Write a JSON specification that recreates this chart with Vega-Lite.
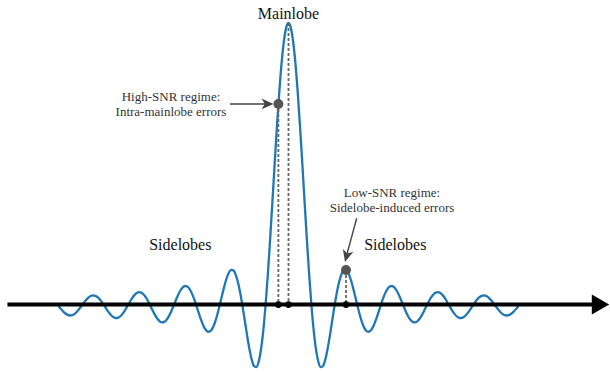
{
  "$schema": "https://vega.github.io/schema/vega-lite/v6.json",
  "width": 610,
  "height": 373,
  "autosize": {"type": "fit", "contains": "padding"},
  "padding": 0,
  "background": "white",
  "config": {"view": {"stroke": null}},
  "datasets": {
    "curve": [
      {"x": -10, "y": 0}, {"x": -9.9, "y": -0.00994}, {"x": -9.8, "y": -0.01909}, {"x": -9.7, "y": -0.02655}, {"x": -9.6, "y": -0.03153}, {"x": -9.5, "y": -0.03351}, {"x": -9.4, "y": -0.03221}, {"x": -9.3, "y": -0.02769}, {"x": -9.2, "y": -0.02034}, {"x": -9.1, "y": -0.01081},
      {"x": -9, "y": 0}, {"x": -8.9, "y": 0.01105}, {"x": -8.8, "y": 0.02126}, {"x": -8.7, "y": 0.0296}, {"x": -8.6, "y": 0.0352}, {"x": -8.5, "y": 0.03745}, {"x": -8.4, "y": 0.03604}, {"x": -8.3, "y": 0.03103}, {"x": -8.2, "y": 0.02282}, {"x": -8.1, "y": 0.01214},
      {"x": -8, "y": 0}, {"x": -7.9, "y": -0.01245}, {"x": -7.8, "y": -0.02399}, {"x": -7.7, "y": -0.03344}, {"x": -7.6, "y": -0.03983}, {"x": -7.5, "y": -0.04244}, {"x": -7.4, "y": -0.04091}, {"x": -7.3, "y": -0.03528}, {"x": -7.2, "y": -0.02599}, {"x": -7.1, "y": -0.01385},
      {"x": -7, "y": 0}, {"x": -6.9, "y": 0.01426}, {"x": -6.8, "y": 0.02751}, {"x": -6.7, "y": 0.03844}, {"x": -6.6, "y": 0.04587}, {"x": -6.5, "y": 0.04897}, {"x": -6.4, "y": 0.0473}, {"x": -6.3, "y": 0.04088}, {"x": -6.2, "y": 0.03018}, {"x": -6.1, "y": 0.01613},
      {"x": -6, "y": 0}, {"x": -5.9, "y": -0.01667}, {"x": -5.8, "y": -0.03226}, {"x": -5.7, "y": -0.04518}, {"x": -5.6, "y": -0.05406}, {"x": -5.5, "y": -0.05787}, {"x": -5.4, "y": -0.05606}, {"x": -5.3, "y": -0.04859}, {"x": -5.2, "y": -0.03598}, {"x": -5.1, "y": -0.01929},
      {"x": -5, "y": 0}, {"x": -4.9, "y": 0.02007}, {"x": -4.8, "y": 0.03898}, {"x": -4.7, "y": 0.05479}, {"x": -4.6, "y": 0.06581}, {"x": -4.5, "y": 0.07074}, {"x": -4.4, "y": 0.0688}, {"x": -4.3, "y": 0.05989}, {"x": -4.2, "y": 0.04455}, {"x": -4.1, "y": 0.02399},
      {"x": -4, "y": 0}, {"x": -3.9, "y": -0.02522}, {"x": -3.8, "y": -0.04924}, {"x": -3.7, "y": -0.0696}, {"x": -3.6, "y": -0.08409}, {"x": -3.5, "y": -0.09095}, {"x": -3.4, "y": -0.08904}, {"x": -3.3, "y": -0.07804}, {"x": -3.2, "y": -0.05847}, {"x": -3.1, "y": -0.03173},
      {"x": -3, "y": 0}, {"x": -2.9, "y": 0.03392}, {"x": -2.8, "y": 0.06682}, {"x": -2.7, "y": 0.09538}, {"x": -2.6, "y": 0.11643}, {"x": -2.5, "y": 0.12732}, {"x": -2.4, "y": 0.12614}, {"x": -2.3, "y": 0.11197}, {"x": -2.2, "y": 0.08504}, {"x": -2.1, "y": 0.04684},
      {"x": -2, "y": 0}, {"x": -1.9, "y": -0.05177}, {"x": -1.8, "y": -0.10394}, {"x": -1.7, "y": -0.15148}, {"x": -1.6, "y": -0.18921}, {"x": -1.5, "y": -0.21221}, {"x": -1.4, "y": -0.21624}, {"x": -1.3, "y": -0.19809}, {"x": -1.2, "y": -0.15592}, {"x": -1.1, "y": -0.08942},
      {"x": -1, "y": 0}, {"x": -0.9, "y": 0.10929}, {"x": -0.8, "y": 0.23387}, {"x": -0.7, "y": 0.36788}, {"x": -0.6, "y": 0.50455}, {"x": -0.5, "y": 0.63662}, {"x": -0.4, "y": 0.75683}, {"x": -0.3, "y": 0.85839}, {"x": -0.2, "y": 0.93549}, {"x": -0.1, "y": 0.98363},
      {"x": 0, "y": 1},
      {"x": 0.1, "y": 0.98363}, {"x": 0.2, "y": 0.93549}, {"x": 0.3, "y": 0.85839}, {"x": 0.4, "y": 0.75683}, {"x": 0.5, "y": 0.63662}, {"x": 0.6, "y": 0.50455}, {"x": 0.7, "y": 0.36788}, {"x": 0.8, "y": 0.23387}, {"x": 0.9, "y": 0.10929}, {"x": 1, "y": 0},
      {"x": 1.1, "y": -0.08942}, {"x": 1.2, "y": -0.15592}, {"x": 1.3, "y": -0.19809}, {"x": 1.4, "y": -0.21624}, {"x": 1.5, "y": -0.21221}, {"x": 1.6, "y": -0.18921}, {"x": 1.7, "y": -0.15148}, {"x": 1.8, "y": -0.10394}, {"x": 1.9, "y": -0.05177}, {"x": 2, "y": 0},
      {"x": 2.1, "y": 0.04684}, {"x": 2.2, "y": 0.08504}, {"x": 2.3, "y": 0.11197}, {"x": 2.4, "y": 0.12614}, {"x": 2.5, "y": 0.12732}, {"x": 2.6, "y": 0.11643}, {"x": 2.7, "y": 0.09538}, {"x": 2.8, "y": 0.06682}, {"x": 2.9, "y": 0.03392}, {"x": 3, "y": 0},
      {"x": 3.1, "y": -0.03173}, {"x": 3.2, "y": -0.05847}, {"x": 3.3, "y": -0.07804}, {"x": 3.4, "y": -0.08904}, {"x": 3.5, "y": -0.09095}, {"x": 3.6, "y": -0.08409}, {"x": 3.7, "y": -0.0696}, {"x": 3.8, "y": -0.04924}, {"x": 3.9, "y": -0.02522}, {"x": 4, "y": 0},
      {"x": 4.1, "y": 0.02399}, {"x": 4.2, "y": 0.04455}, {"x": 4.3, "y": 0.05989}, {"x": 4.4, "y": 0.0688}, {"x": 4.5, "y": 0.07074}, {"x": 4.6, "y": 0.06581}, {"x": 4.7, "y": 0.05479}, {"x": 4.8, "y": 0.03898}, {"x": 4.9, "y": 0.02007}, {"x": 5, "y": 0},
      {"x": 5.1, "y": -0.01929}, {"x": 5.2, "y": -0.03598}, {"x": 5.3, "y": -0.04859}, {"x": 5.4, "y": -0.05606}, {"x": 5.5, "y": -0.05787}, {"x": 5.6, "y": -0.05406}, {"x": 5.7, "y": -0.04518}, {"x": 5.8, "y": -0.03226}, {"x": 5.9, "y": -0.01667}, {"x": 6, "y": 0},
      {"x": 6.1, "y": 0.01613}, {"x": 6.2, "y": 0.03018}, {"x": 6.3, "y": 0.04088}, {"x": 6.4, "y": 0.0473}, {"x": 6.5, "y": 0.04897}, {"x": 6.6, "y": 0.04587}, {"x": 6.7, "y": 0.03844}, {"x": 6.8, "y": 0.02751}, {"x": 6.9, "y": 0.01426}, {"x": 7, "y": 0},
      {"x": 7.1, "y": -0.01385}, {"x": 7.2, "y": -0.02599}, {"x": 7.3, "y": -0.03528}, {"x": 7.4, "y": -0.04091}, {"x": 7.5, "y": -0.04244}, {"x": 7.6, "y": -0.03983}, {"x": 7.7, "y": -0.03344}, {"x": 7.8, "y": -0.02399}, {"x": 7.9, "y": -0.01245}, {"x": 8, "y": 0},
      {"x": 8.1, "y": 0.01214}, {"x": 8.2, "y": 0.02282}, {"x": 8.3, "y": 0.03103}, {"x": 8.4, "y": 0.03604}, {"x": 8.5, "y": 0.03745}, {"x": 8.6, "y": 0.0352}, {"x": 8.7, "y": 0.0296}, {"x": 8.8, "y": 0.02126}, {"x": 8.9, "y": 0.01105}, {"x": 9, "y": 0},
      {"x": 9.1, "y": -0.01081}, {"x": 9.2, "y": -0.02034}, {"x": 9.3, "y": -0.02769}, {"x": 9.4, "y": -0.03221}, {"x": 9.5, "y": -0.03351}, {"x": 9.6, "y": -0.03153}, {"x": 9.7, "y": -0.02655}, {"x": 9.8, "y": -0.01909}, {"x": 9.9, "y": -0.00994}, {"x": 10, "y": 0}
    ],
    "axisline": [{"x": -12.22, "x2": 13.3, "y": 0.005}],
    "axishead": [{"x": 13.565, "y": 0.005}],
    "dashed": [
      {"x": -0.44, "y": 0.714, "y2": 0.005},
      {"x": 0, "y": 1, "y2": 0.005},
      {"x": 2.5, "y": 0.127, "y2": 0.005}
    ],
    "basedots": [{"x": -0.44, "y": 0.005}, {"x": 0, "y": 0.005}, {"x": 2.5, "y": 0.005}],
    "marks": [{"x": -0.44, "y": 0.714}, {"x": 2.5, "y": 0.127}],
    "arrowlines": [
      {"x": -2.543, "y": 0.714, "x2": -0.95, "y2": 0.714},
      {"x": 2.965, "y": 0.31, "x2": 2.53, "y2": 0.18}
    ],
    "head1": [{"x": -0.913, "y": 0.714}],
    "head2": [{"x": 2.524, "y": 0.176}],
    "bigtext": [
      {"x": 0, "y": 1.0141, "text": "Mainlobe"},
      {"x": -4.704, "y": 0.198, "text": "Sidelobes"},
      {"x": 4.643, "y": 0.198, "text": "Sidelobes"}
    ],
    "smalltext": [
      {"x": -5.109, "y": 0.7244, "text": "High-SNR regime:"},
      {"x": -5.109, "y": 0.6714, "text": "Intra-mainlobe errors"},
      {"x": 4.5, "y": 0.385, "text": "Low-SNR regime:"},
      {"x": 4.5, "y": 0.332, "text": "Sidelobe-induced errors"}
    ]
  },
  "encoding": {
    "x": {"field": "x", "type": "quantitative", "scale": {"domain": [-12.543, 13.978], "nice": false, "zero": false}, "axis": null},
    "y": {"field": "y", "type": "quantitative", "scale": {"domain": [-0.23675, 1.0813], "nice": false, "zero": false}, "axis": null}
  },
  "layer": [
    {"data": {"name": "curve"}, "mark": {"type": "line", "color": "#1f77b4", "strokeWidth": 2.3, "interpolate": "monotone"}},
    {"data": {"name": "axisline"}, "mark": {"type": "rule", "color": "#000000", "strokeWidth": 4}, "encoding": {"x2": {"field": "x2"}}},
    {"data": {"name": "axishead"}, "mark": {"type": "point", "shape": "triangle-right", "size": 400, "filled": true, "color": "#000000", "opacity": 1}},
    {"data": {"name": "dashed"}, "mark": {"type": "rule", "color": "#666666", "strokeWidth": 1.8, "strokeDash": [3, 2]}, "encoding": {"y2": {"field": "y2"}}},
    {"data": {"name": "basedots"}, "mark": {"type": "circle", "size": 45, "color": "#000000", "opacity": 1}},
    {"data": {"name": "arrowlines"}, "mark": {"type": "rule", "color": "#444444", "strokeWidth": 1.4}, "encoding": {"x2": {"field": "x2"}, "y2": {"field": "y2"}}},
    {"data": {"name": "head1"}, "mark": {"type": "point", "shape": "M1,0L-1,-0.9L-0.45,0L-1,0.9Z", "size": 144, "filled": true, "color": "#444444", "opacity": 1, "angle": 0}},
    {"data": {"name": "head2"}, "mark": {"type": "point", "shape": "M1,0L-1,-0.9L-0.45,0L-1,0.9Z", "size": 144, "filled": true, "color": "#444444", "opacity": 1, "angle": 105}},
    {"data": {"name": "marks"}, "mark": {"type": "circle", "size": 100, "color": "#555555", "opacity": 1}},
    {"data": {"name": "bigtext"}, "mark": {"type": "text", "font": "Liberation Serif", "fontSize": 16, "color": "#111111", "align": "center", "baseline": "alphabetic"}, "encoding": {"text": {"field": "text"}}},
    {"data": {"name": "smalltext"}, "mark": {"type": "text", "font": "Liberation Serif", "fontSize": 13, "color": "#333333", "align": "center", "baseline": "alphabetic"}, "encoding": {"text": {"field": "text"}}}
  ]
}
